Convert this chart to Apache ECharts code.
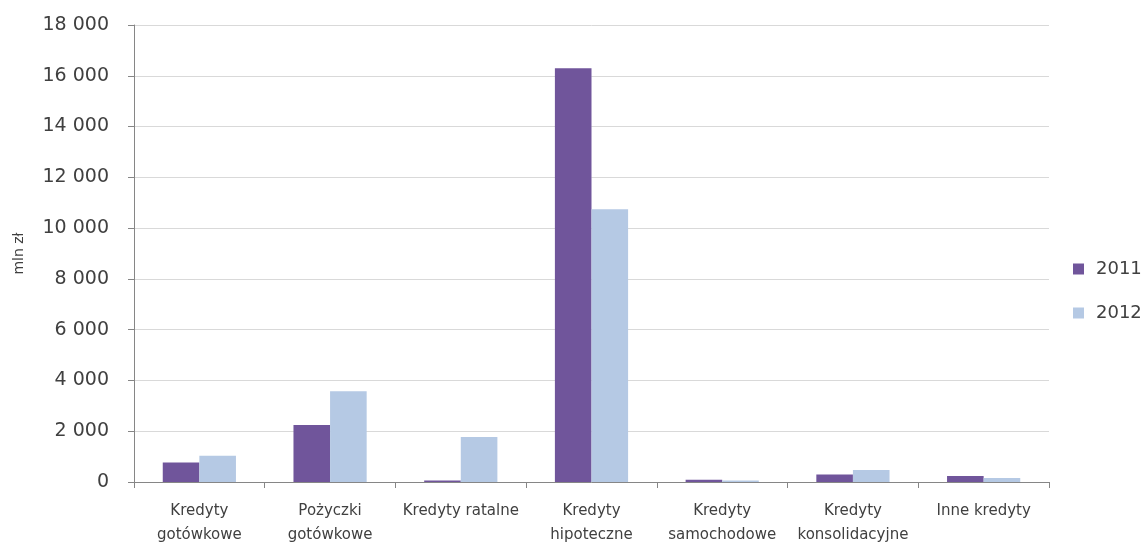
<!DOCTYPE html>
<html>
<head>
<meta charset="utf-8">
<script src="https://cdn.jsdelivr.net/npm/echarts@6/dist/echarts.min.js"></script>
<style>html,body{margin:0;padding:0;background:#fff}#c{width:1148px;height:543px}</style>
</head>
<body>
<div id="c"></div>
<script>
var categories = ["Kredyty\ngotówkowe", "Pożyczki\ngotówkowe", "Kredyty ratalne", "Kredyty\nhipoteczne", "Kredyty\nsamochodowe", "Kredyty\nkonsolidacyjne", "Inne kredyty"];
var seriesNames = ["2011", "2012"];
var values2011 = [770, 2250, 60, 16300, 90, 300, 235];
var values2012 = [1030, 3570, 1775, 10740, 60, 470, 155];
var yTicks = [0, 2000, 4000, 6000, 8000, 10000, 12000, 14000, 16000, 18000];

var font = "DejaVu Sans";
var chart = echarts.init(document.getElementById('c'), null, {renderer: 'canvas'});
chart.setOption({
  animation: false,
  backgroundColor: '#ffffff',
  grid: {left: 134, right: 99, top: 25, bottom: 61, containLabel: false, outerBoundsMode: 'none'},
  legend: {
    orient: 'vertical',
    left: 1068,
    top: 255,
    itemWidth: 11,
    itemHeight: 11,
    itemGap: 26,
    icon: 'rect',
    data: seriesNames,
    textStyle: {fontFamily: font, fontSize: 18, color: '#404040', padding: [0, 0, 0, 7]}
  },
  xAxis: {
    type: 'category',
    data: categories,
    axisLine: {lineStyle: {color: '#868686', width: 1}},
    axisTick: {show: true, length: 6, lineStyle: {color: '#868686'}},
    axisLabel: {fontFamily: font, fontSize: 15, color: '#404040', lineHeight: 24, margin: 17, interval: 0}
  },
  yAxis: {
    type: 'value',
    min: yTicks[0],
    max: yTicks[yTicks.length - 1],
    interval: 2000,
    name: 'mln zł',
    nameLocation: 'middle',
    nameGap: 108,
    nameRotate: 90,
    nameTextStyle: {fontFamily: font, fontSize: 14, color: '#404040'},
    axisLine: {show: true, lineStyle: {color: '#868686', width: 1}},
    axisTick: {show: true, length: 6, lineStyle: {color: '#868686'}},
    axisLabel: {
      fontFamily: font, fontSize: 19, color: '#404040', margin: 25,
      formatter: function (v) { return String(v).replace(/\B(?=(\d{3})+(?!\d))/g, ' '); }
    },
    splitLine: {lineStyle: {color: '#d9d9d9', width: 1}}
  },
  series: [
    {name: seriesNames[0], type: 'bar', data: values2011, barGap: '0%', barCategoryGap: '44%',
     itemStyle: {color: '#70559b'}},
    {name: seriesNames[1], type: 'bar', data: values2012, barGap: '0%', barCategoryGap: '44%',
     itemStyle: {color: '#b5c9e4'}}
  ]
});
</script>
</body>
</html>
